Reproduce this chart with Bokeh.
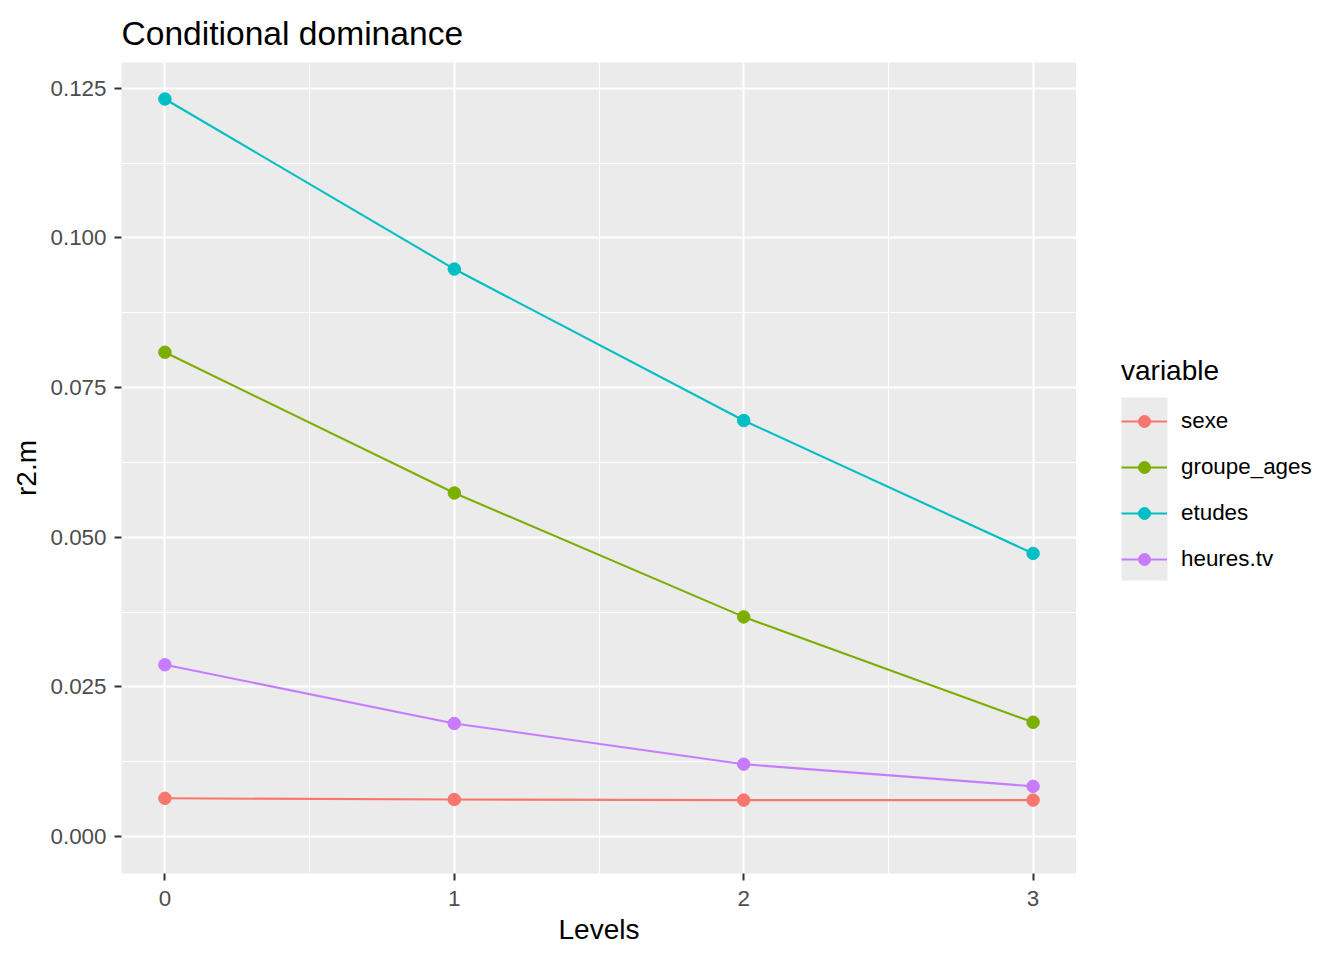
from bokeh.plotting import figure
from bokeh.models import (Range1d, FixedTicker, Legend, LegendItem, BoxAnnotation,
                          ColumnDataSource)
from bokeh.layouts import row
from bokeh.embed import file_html
from bokeh.resources import INLINE

# ---- data ----
levels = [0, 1, 2, 3]
series_names = ["sexe", "groupe_ages", "etudes", "heures.tv"]
sexe = [0.0064, 0.0062, 0.0061, 0.0061]
groupe_ages = [0.0809, 0.0574, 0.0367, 0.0191]
etudes = [0.1232, 0.0948, 0.0695, 0.0473]
heures_tv = [0.0287, 0.0189, 0.0121, 0.0084]
series_colors = ["#F8766D", "#7CAE00", "#00BFC4", "#C77CFF"]

x_ticks = [0, 1, 2, 3]
x_minor = [0.5, 1.5, 2.5]
y_ticks = [0.0, 0.025, 0.05, 0.075, 0.1, 0.125]
y_tick_labels = ["0.000", "0.025", "0.050", "0.075", "0.100", "0.125"]
y_minor = [0.0125, 0.0375, 0.0625, 0.0875, 0.1125]

FONT = "Liberation Sans"
H = 948

p = figure(width=1076, height=H, output_backend="svg", toolbar_location=None,
           x_range=Range1d(-0.15, 3.15), y_range=Range1d(-0.00616, 0.1293),
           title="Conditional dominance",
           min_border_left=121, min_border_right=0, min_border_top=62,
           min_border_bottom=75)

p.background_fill_color = "#EBEBEB"
p.border_fill_color = "white"
p.outline_line_color = None

# title
p.title.text_font = FONT
p.title.text_font_size = "33.6px"
p.title.text_font_style = "normal"
p.title.text_color = "black"
p.title.align = "left"
p.title.standoff = 22

# axes
for ax in (p.xaxis[0], p.yaxis[0]):
    ax.axis_line_color = None
    ax.major_tick_line_color = "#333333"
    ax.major_tick_line_width = 2
    ax.major_tick_out = 7
    ax.major_tick_in = 0
    ax.minor_tick_line_color = None
    ax.major_label_text_font = FONT
    ax.major_label_text_font_size = "22.4px"
    ax.major_label_text_color = "#4D4D4D"
    ax.axis_label_text_font = FONT
    ax.axis_label_text_font_size = "28px"
    ax.axis_label_text_font_style = "normal"
    ax.axis_label_text_color = "black"

p.xaxis.ticker = FixedTicker(ticks=x_ticks, minor_ticks=x_minor)
p.yaxis.ticker = FixedTicker(ticks=y_ticks, minor_ticks=y_minor)
p.yaxis.major_label_overrides = {t: l for t, l in zip(y_ticks, y_tick_labels)}
p.xaxis.major_label_overrides = {t: str(t) for t in x_ticks}
p.xaxis.axis_label = "Levels"
p.yaxis.axis_label = "r2.m"
p.xaxis.major_label_standoff = 10
p.yaxis.major_label_standoff = 8
p.xaxis.axis_label_standoff = 5
p.yaxis.axis_label_standoff = 5

# grid
for g in (p.xgrid[0], p.ygrid[0]):
    g.grid_line_color = "white"
    g.grid_line_width = 2.1
    g.minor_grid_line_color = "white"
    g.minor_grid_line_width = 1.1

all_series = [sexe, groupe_ages, etudes, heures_tv]
for name, vals, col in zip(series_names, all_series, series_colors):
    src = ColumnDataSource(dict(x=levels, y=vals))
    p.line("x", "y", source=src, line_color=col, line_width=2.1)
    p.scatter("x", "y", source=src, size=12.5, fill_color=col, line_color=col)

# ---- legend panel (separate figure to the right) ----
LW = 1328 - 1076
lg = figure(width=LW, height=H, output_backend="svg", toolbar_location=None,
            x_range=Range1d(0, 1), y_range=Range1d(0, 1),
            x_axis_type=None, y_axis_type=None, min_border=0)
lg.outline_line_color = None
lg.background_fill_color = "white"
lg.border_fill_color = "white"

key_bg = BoxAnnotation(left=45, right=91, top=397, bottom=580,
                       left_units="canvas", right_units="canvas",
                       top_units="canvas", bottom_units="canvas",
                       fill_color="#EBEBEB", fill_alpha=1.0, line_color=None,
                       level="underlay")
lg.add_layout(key_bg)

items = []
for name, vals, col in zip(series_names, all_series, series_colors):
    # legend proxies, placed outside the visible range of this panel
    lr = lg.line(x=[-5, -4], y=[-5, -5], line_color=col, line_width=2.1)
    sr = lg.scatter(x=[-5], y=[-5], size=12.5, fill_color=col, line_color=col)
    items.append(LegendItem(label=name, renderers=[lr, sr]))

legend = Legend(items=items, location=(45, 299), orientation="vertical",
                title="variable")
legend.title_text_font = FONT
legend.title_text_font_size = "28px"
legend.title_text_font_style = "normal"
legend.title_text_color = "black"
legend.title_standoff = 19
legend.label_text_font = FONT
legend.label_text_font_size = "22.4px"
legend.label_text_color = "black"
legend.glyph_width = 46
legend.glyph_height = 30
legend.label_height = 30
legend.spacing = 16
legend.label_standoff = 14
legend.padding = 0
legend.margin = 0
legend.border_line_color = None
legend.background_fill_alpha = 0
legend.click_policy = "none"
lg.add_layout(legend, "center")

layout = row(p, lg)
open("out.html", "w").write(file_html(layout, INLINE))
